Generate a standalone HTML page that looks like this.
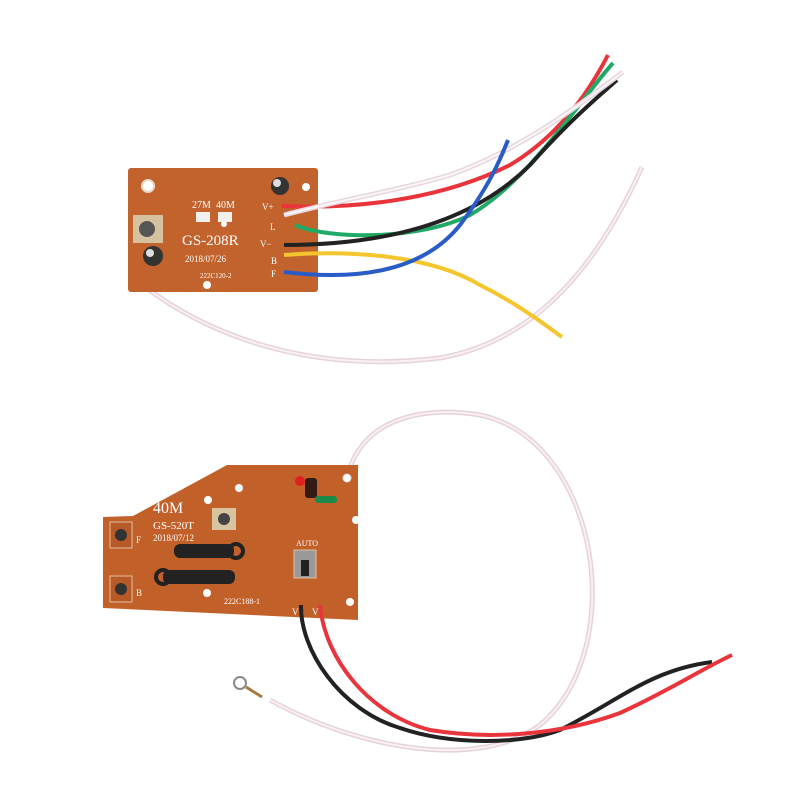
<!DOCTYPE html>
<html><head><meta charset="utf-8"><style>
html,body{margin:0;padding:0;background:#fff;}
svg{display:block;}
text{font-family:"Liberation Serif",serif;fill:#fff;}
</style></head><body>
<svg width="800" height="800" viewBox="0 0 800 800" xmlns="http://www.w3.org/2000/svg">
<!-- top white long wire -->
<path d="M140,283 C200,330 300,375 440,358 C540,340 600,260 642,167" fill="none" stroke="#e6d2da" stroke-width="5"/>
<path d="M140,283 C200,330 300,375 440,358 C540,340 600,260 642,167" fill="none" stroke="#f8f0f4" stroke-width="2"/>
<!-- top board -->
<rect x="128" y="168" width="190" height="124" rx="3" fill="#c2622c"/>
<circle cx="148" cy="186" r="6" fill="#fff" stroke="#e8d8c8" stroke-width="2"/>
<circle cx="224" cy="224" r="3" fill="#fff"/>
<circle cx="207" cy="285" r="4" fill="#fff"/>
<circle cx="306" cy="187" r="4" fill="#fff"/>
<rect x="196" y="212" width="14" height="10" fill="#f2f0ec"/>
<rect x="218" y="212" width="14" height="10" fill="#f2f0ec"/>
<text x="192" y="208" font-size="10">27M</text><text x="216" y="208" font-size="10">40M</text>
<text x="182" y="245" font-size="15">GS-208R</text>
<text x="185" y="262" font-size="9" font-family="Liberation Sans">2018/07/26</text>
<text x="200" y="278" font-size="7" font-family="Liberation Sans">222C120-2</text>
<rect x="133" y="215" width="30" height="28" fill="#d7c2a0"/>
<circle cx="147" cy="229" r="8" fill="#555"/>
<circle cx="153" cy="256" r="10" fill="#333"/><circle cx="150" cy="253" r="4" fill="#ddd"/>
<circle cx="280" cy="186" r="9" fill="#333"/><circle cx="277" cy="183" r="4" fill="#ddd"/>
<text x="262" y="210" font-size="9">V+</text><text x="270" y="230" font-size="9">L</text>
<text x="260" y="247" font-size="9">V−</text><text x="271" y="264" font-size="9">B</text><text x="271" y="277" font-size="9">F</text>
<!-- top wires -->
<path d="M282,206 C370,210 450,195 510,165 C560,135 590,90 608,55" fill="none" stroke="#e8343a" stroke-width="4"/>
<path d="M295,225 C330,240 420,240 470,215 C530,180 580,100 613,63" fill="none" stroke="#20a866" stroke-width="4"/>
<path d="M284,245 C380,245 470,225 530,165 C570,120 600,95 617,80" fill="none" stroke="#222" stroke-width="4"/>
<path d="M284,215 C340,200 400,190 450,175 C520,150 580,105 623,72" fill="none" stroke="#e6d6de" stroke-width="5"/>
<path d="M284,215 C340,200 400,190 450,175 C520,150 580,105 623,72" fill="none" stroke="#fbf6f8" stroke-width="2"/>
<path d="M284,255 C350,250 430,255 480,285 C520,305 545,325 562,337" fill="none" stroke="#f4c52c" stroke-width="4"/>
<path d="M284,272 C350,280 420,275 460,225 C490,185 500,160 508,140" fill="none" stroke="#2a5cc8" stroke-width="4"/>
<!-- bottom white wire -->
<path d="M347,478 C360,420 420,405 480,415 C600,440 630,650 540,725 C480,770 360,750 270,700" fill="none" stroke="#e6d2da" stroke-width="5"/>
<path d="M347,478 C360,420 420,405 480,415 C600,440 630,650 540,725 C480,770 360,750 270,700" fill="none" stroke="#f8f0f4" stroke-width="2"/>
<circle cx="240" cy="683" r="6" fill="none" stroke="#888" stroke-width="2"/>
<line x1="246" y1="687" x2="262" y2="697" stroke="#a87a40" stroke-width="3"/>
<!-- bottom board -->
<polygon points="227,465 358,465 358,620 103,608 103,517 133,516" fill="#c2602a"/>
<circle cx="239" cy="488" r="4" fill="#fff"/><circle cx="208" cy="500" r="4" fill="#fff"/>
<circle cx="356" cy="520" r="4" fill="#fff"/><circle cx="207" cy="593" r="4" fill="#fff"/>
<circle cx="350" cy="602" r="4" fill="#fff"/>
<circle cx="347" cy="478" r="4" fill="#fff" stroke="#ddd"/>
<text x="153" y="513" font-size="16">40M</text>
<text x="153" y="529" font-size="11">GS-520T</text>
<text x="153" y="541" font-size="9" font-family="Liberation Sans">2018/07/12</text>
<text x="224" y="604" font-size="8" font-family="Liberation Sans">222C188-1</text>
<text x="296" y="546" font-size="8">AUTO</text>
<text x="136" y="543" font-size="9">F</text><text x="136" y="596" font-size="9">B</text>
<text x="292" y="615" font-size="9">V−</text><text x="312" y="615" font-size="9">V+</text>
<rect x="110" y="522" width="22" height="26" fill="#b85a28" stroke="#e0c0a0"/>
<circle cx="121" cy="535" r="6" fill="#333"/>
<rect x="110" y="576" width="22" height="26" fill="#b85a28" stroke="#e0c0a0"/>
<circle cx="121" cy="589" r="6" fill="#333"/>
<rect x="294" y="550" width="22" height="28" fill="#999" stroke="#e0c0a0"/>
<rect x="301" y="560" width="8" height="16" fill="#222"/>
<rect x="212" y="508" width="24" height="22" fill="#d8c4a0"/><circle cx="224" cy="519" r="6" fill="#444"/>
<rect x="174" y="544" width="60" height="14" rx="6" fill="#222"/><circle cx="236" cy="551" r="7" fill="none" stroke="#222" stroke-width="4"/>
<rect x="163" y="570" width="72" height="14" rx="6" fill="#222"/><circle cx="163" cy="577" r="7" fill="none" stroke="#222" stroke-width="4"/>
<rect x="305" y="478" width="12" height="20" rx="3" fill="#331a14"/><circle cx="300" cy="481" r="5" fill="#e02020"/>
<rect x="315" y="496" width="22" height="7" rx="3" fill="#1e8a4a"/>
<!-- bottom wires -->
<path d="M301,605 C300,650 340,710 400,728 C450,745 520,745 560,730 C620,700 650,670 712,662" fill="none" stroke="#222" stroke-width="4"/>
<path d="M320,605 C325,660 370,715 430,730 C490,740 560,735 620,713 C670,690 700,670 732,655" fill="none" stroke="#e8343a" stroke-width="4"/>
</svg>
</body></html>
